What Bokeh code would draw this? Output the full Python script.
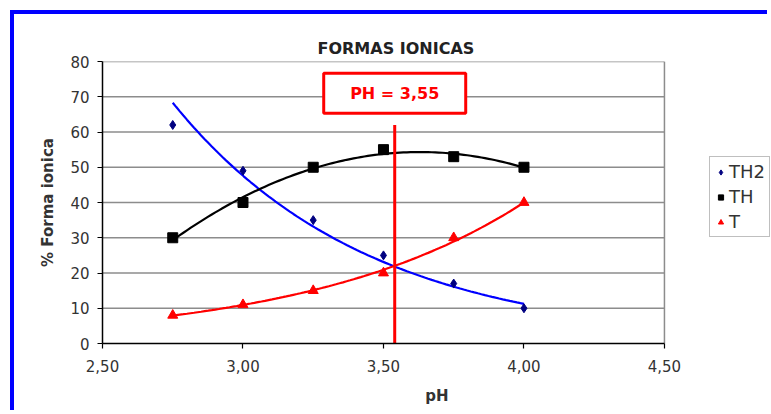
import numpy as np
from bokeh.plotting import figure
from bokeh.models import (Legend, LegendItem, CustomJSTickFormatter, FixedTicker,
                          Range1d)
from bokeh.core.properties import value
from bokeh.embed import file_html
from bokeh.resources import INLINE

# ---- data ----
ph = [2.75, 3.00, 3.25, 3.50, 3.75, 4.00]
th2 = [62, 49, 35, 25, 17, 10]
th = [30, 40, 50, 55, 53, 50]
t = [8, 11, 15, 20, 30, 40]
x_ticks = [2.5, 3.0, 3.5, 4.0, 4.5]
y_ticks = [0, 10, 20, 30, 40, 50, 60, 70, 80]
ph_mark = 3.54
ph_label = "PH = 3,55"

FONT = "DejaVu Sans"
X0, X1 = x_ticks[0], x_ticks[-1]
Y0, Y1 = y_ticks[0], y_ticks[-1]

# frame runs on to the right edge so the legend (drawn inside it) is not clipped
p = figure(width=757, height=400, output_backend="svg", toolbar_location=None,
           x_range=Range1d(X0, 4.881), y_range=Range1d(Y0, Y1),
           min_border_left=88, min_border_right=0, min_border_top=47,
           min_border_bottom=71)
p.styles = {"border-left": "4px solid #0000ff", "border-top": "4px solid #0000ff",
            "margin-left": "10px", "margin-top": "10px"}

p.title.text = "FORMAS IONICAS"
p.title.align = "left"
p.title.offset = 215
p.title.text_font = FONT
p.title.text_font_size = "16px"
p.title.text_font_style = "bold"
p.title.text_color = "#222222"
p.title.standoff = 8

p.background_fill_color = "white"
p.border_fill_color = "white"
p.outline_line_color = None

# axes
p.xaxis.ticker = FixedTicker(ticks=x_ticks)
p.yaxis.ticker = FixedTicker(ticks=y_ticks)
p.xaxis.bounds = (X0, X1)
p.xaxis.formatter = CustomJSTickFormatter(code="return tick.toFixed(2).replace('.', ',');")
for ax in (p.xaxis, p.yaxis):
    ax.axis_line_color = "black"
    ax.axis_line_width = 1.5
    ax.major_tick_line_color = "black"
    ax.major_tick_line_width = 1.2
    ax.major_tick_out = 5
    ax.major_tick_in = 0
    ax.minor_tick_line_color = None
    ax.major_label_text_font = FONT
    ax.major_label_text_font_size = "15px"
    ax.major_label_text_color = "#333333"
    ax.axis_label_text_font = FONT
    ax.axis_label_text_font_size = "15px"
    ax.axis_label_text_font_style = "bold"
    ax.axis_label_text_color = "#333333"
p.xaxis.axis_label = "pH"
p.yaxis.axis_label = "% Forma ionica"
p.xaxis.major_label_standoff = 11
p.xaxis.axis_label_standoff = 12
p.yaxis.major_label_standoff = 8
p.yaxis.axis_label_standoff = 10

p.xgrid.grid_line_color = None
p.ygrid.grid_line_color = None

# horizontal gridlines and plot-area border limited to the 2.50-4.50 plot area
p.segment(x0=[X0] * (len(y_ticks) - 1), y0=y_ticks[1:], x1=[X1] * (len(y_ticks) - 1),
          y1=y_ticks[1:], line_color="#8c8c8c", line_width=1.5)
p.segment(x0=[X1], y0=[Y0], x1=[X1], y1=[Y1], line_color="#8c8c8c", line_width=1.5)

# trendlines fitted from the data
xs = np.linspace(min(ph), max(ph), 100)
a_th2 = np.polyfit(ph, np.log(th2), 1)
a_t = np.polyfit(ph, np.log(t), 1)
a_th = np.polyfit(ph, th, 2)
p.line(xs, np.exp(np.polyval(a_th2, xs)), line_color="#0000ff", line_width=2.2)
p.line(xs, np.polyval(a_th, xs), line_color="black", line_width=2.2)
p.line(xs, np.exp(np.polyval(a_t, xs)), line_color="#ff0000", line_width=2.2)

r1 = p.scatter(ph, th2, marker="diamond", size=9, fill_color="#000080", line_color="#000080")
r2 = p.scatter(ph, th, marker="square", size=10, fill_color="black", line_color="black")
r3 = p.scatter(ph, t, marker="triangle", size=10, fill_color="#ff0000", line_color="#ff0000")

# vertical marker line and annotation box
p.segment(x0=[ph_mark], y0=[-5], x1=[ph_mark], y1=[62], line_color="#ff0000", line_width=3)
p.rect(x=[ph_mark], y=[71], width=[142], height=[40], width_units="screen",
       height_units="screen", fill_color="white", line_color="#ff0000", line_width=3)
p.text(x=[ph_mark], y=[71], text=[ph_label], text_align="center", text_baseline="middle",
       text_font=value(FONT), text_font_size="16px", text_font_style="bold",
       text_color="#ff0000")

legend = Legend(items=[LegendItem(label="TH2", renderers=[r1]),
                       LegendItem(label="TH", renderers=[r2]),
                       LegendItem(label="T", renderers=[r3])],
                location=(607, 106))
legend.label_text_font = FONT
legend.label_text_font_size = "18px"
legend.label_text_color = "#333333"
legend.glyph_height = 20
legend.glyph_width = 13
legend.label_height = 20
legend.spacing = 4
legend.padding = 4
legend.margin = 0
legend.label_standoff = 2
legend.border_line_color = "#808080"
legend.border_line_width = 1.5
legend.background_fill_color = "white"
p.add_layout(legend, "center")

open("out.html", "w").write(file_html(p, INLINE))
